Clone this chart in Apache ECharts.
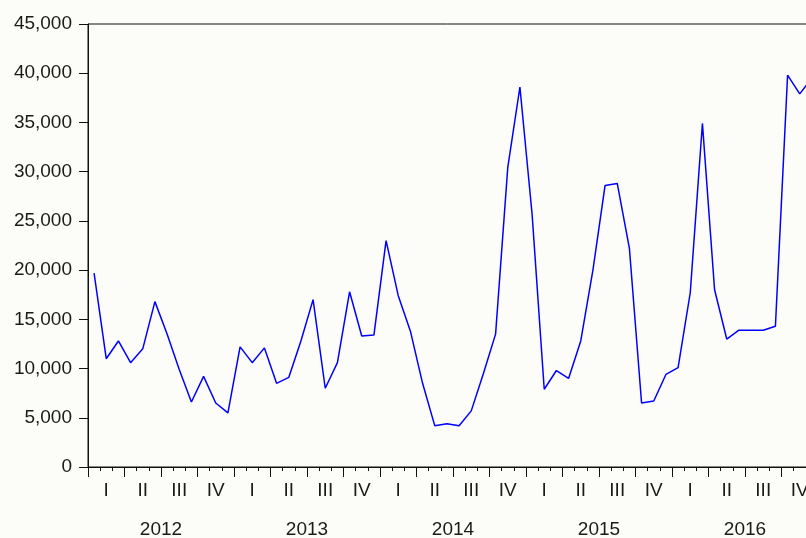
<!DOCTYPE html>
<html>
<head>
<meta charset="utf-8">
<script src="https://cdn.jsdelivr.net/npm/echarts@6/dist/echarts.min.js"></script>
<style>
html, body { margin: 0; padding: 0; background: #fcfcf8; }
#chart { width: 806px; height: 538px; }
</style>
</head>
<body>
<div id="chart"></div>
<script>
// tick labels
var years = ['2012', '2013', '2014', '2015', '2016'];
var quarters = ['I', 'II', 'III', 'IV'];
var monthsPerQuarter = 3;

// monthly values, Jan 2012 .. Dec 2016
var values = [
    19700, 11000, 12800, 10600, 12000, 16800, 13500, 9900, 6600, 9200, 6500, 5500,
    12200, 10600, 12100, 8500, 9100, 12800, 17000, 8000, 10600, 17800, 13300, 13400,
    23000, 17400, 13800, 8500, 4200, 4400, 4200, 5700, 9500, 13500, 30400, 38600,
    25700, 7900, 9800, 9000, 12800, 20000, 28600, 28800, 22200, 6500, 6700, 9400,
    10100, 17700, 34900, 18000, 13000, 13900, 13900, 13900, 14300, 39800, 37900, 39500
];

// category lists built from the tick labels
var quarterCats = [];
var monthCats = [];
years.forEach(function (y) {
    quarters.forEach(function (q) {
        quarterCats.push(y + '-' + q);
        for (var m = 0; m < monthsPerQuarter; m++) {
            monthCats.push(y + '-' + q + '-' + m);
        }
    });
});

var font = "'Liberation Sans', Arial, sans-serif";
var txt = '#1a1a1a';

var myChart = echarts.init(document.getElementById('chart'));
var option = {
    backgroundColor: '#fcfcf8',
    animation: false,
    grid: {
        left: 88, top: 24, width: 730, height: 443,
        outerBoundsMode: 'none', containLabel: false,
        show: true, borderColor: '#111', borderWidth: 1, backgroundColor: 'transparent'
    },
    xAxis: [{
        type: 'category', position: 'bottom', data: monthCats, boundaryGap: true,
        axisLine: { show: true, lineStyle: { color: '#111', width: 1 } },
        axisTick: { show: true, interval: 0, length: 4, lineStyle: { color: '#111' } },
        axisLabel: { show: false },
        splitLine: { show: false }
    }, {
        type: 'category', position: 'bottom', data: quarterCats, boundaryGap: true,
        axisLine: { show: false },
        axisTick: { show: true, interval: 0, length: 10, lineStyle: { color: '#111' } },
        axisLabel: {
            interval: 0, margin: 14, color: txt, fontSize: 19, fontFamily: font,
            formatter: function (v) { return v.split('-')[1]; }
        },
        splitLine: { show: false }
    }, {
        type: 'category', position: 'bottom', data: years, boundaryGap: true,
        axisLine: { show: false },
        axisTick: { show: false },
        axisLabel: { interval: 0, margin: 53, color: txt, fontSize: 19, fontFamily: font },
        splitLine: { show: false }
    }],
    yAxis: {
        type: 'value', min: 0, max: 45000, interval: 5000,
        axisLine: { show: true, lineStyle: { color: '#111', width: 1 } },
        axisTick: { show: true, length: 9, lineStyle: { color: '#111' } },
        axisLabel: {
            margin: 16, color: txt, fontSize: 19, fontFamily: font,
            formatter: function (v) { return String(v).replace(/\B(?=(\d{3})+(?!\d))/g, ','); }
        },
        splitLine: { show: false }
    },
    series: [{
        type: 'line', xAxisIndex: 0, data: values,
        symbol: 'none',
        lineStyle: { color: '#0000ff', width: 1.5 }
    }]
};
myChart.setOption(option);
</script>
</body>
</html>
